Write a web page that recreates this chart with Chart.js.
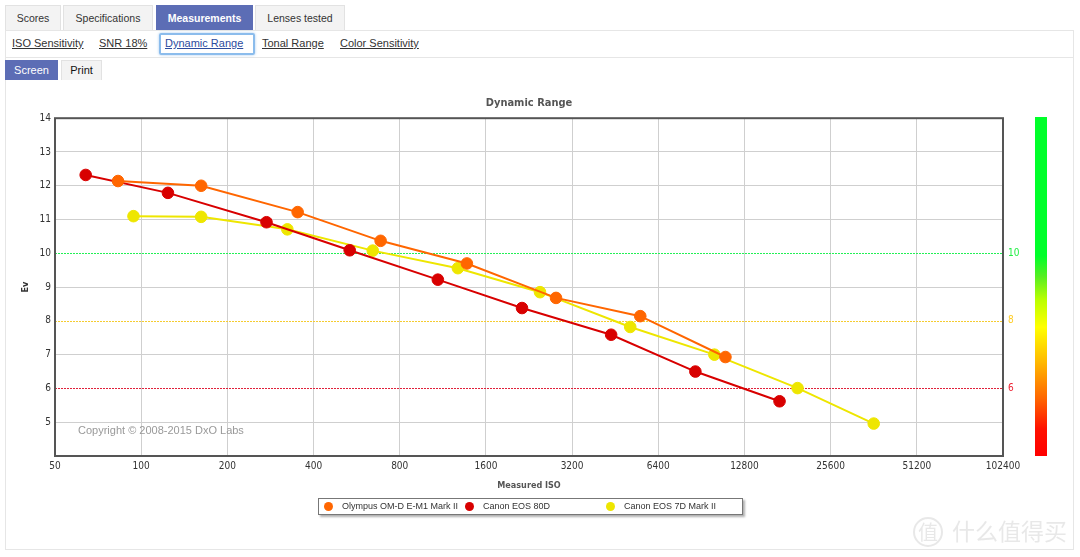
<!DOCTYPE html>
<html>
<head>
<meta charset="utf-8">
<script src="https://cdn.jsdelivr.net/npm/chart.js@4/dist/chart.umd.min.js"></script>
<style>
  body { margin: 0; background: #fff; font-family: "Liberation Sans", Arial, sans-serif; }
  .abs { position: absolute; box-sizing: border-box; }
  .tab { height: 25px; top: 5px; background: #f3f3f3; border: 1px solid #e2e2e2; border-bottom: 0;
         font-size: 10.5px; color: #333; text-align: center; line-height: 24px; }
  .tab.on { background: #5c6db5; border-color: #5c6db5; color: #fff; font-weight: bold; }
  .panel { left: 5px; top: 30px; width: 1069px; height: 520px; border: 1px solid #e6e6e6; }
  .sep { left: 5px; top: 57px; width: 1069px; height: 1px; background: #e6e6e6; }
  .sub { top: 36px; font-size: 11px; color: #333; text-decoration: underline; line-height: 14px; }
  .sub.on { color: #2c4b9e; }
  .focus { left: 159px; top: 33px; width: 96px; height: 22px; border: 2px solid #8bbcec;
           border-radius: 2px; box-shadow: 0 0 3px #a9cdf0; }
  .btn { top: 60px; height: 20px; font-size: 11px; line-height: 20px; text-align: center; }
  #chartBox { left: 6px; top: 86px; width: 1066px; height: 462px; }
  #bar { left: 1035px; top: 117px; width: 12px; height: 339px;
         background: linear-gradient(to bottom, #00ff2a 0%, #00ff2a 41%, #55ee22 47%, #bbff00 54%,
           #ffff00 62%, #ffbb00 72%, #ff6600 83%, #ff1100 92%, #ff0000 100%); }
  #legend { left: 318px; top: 498px; width: 425px; height: 17px; border: 1px solid #777;
            box-shadow: 2px 2px 2px #b0b0b0; background: #fff; font-size: 9px; color: #333; white-space: nowrap; }
  #legend span { display: inline-block; position: relative; width: 141px; padding-left: 23px;
                 box-sizing: border-box; line-height: 15px; }
  #legend i { position: absolute; left: 5px; top: 3px; width: 9px; height: 9px; border-radius: 50%; }
  .wm { color: rgba(190,190,190,0.35); font-family: "Noto Sans CJK SC", sans-serif; }
</style>
</head>
<body>
<div class="abs panel"></div>
<div class="abs tab" style="left:5px;width:56px">Scores</div>
<div class="abs tab" style="left:63px;width:90px">Specifications</div>
<div class="abs tab on" style="left:156px;width:97px">Measurements</div>
<div class="abs tab" style="left:255px;width:90px">Lenses tested</div>
<div class="abs sep"></div>
<div class="abs focus"></div>
<div class="abs sub" style="left:12px">ISO Sensitivity</div>
<div class="abs sub" style="left:99px">SNR 18%</div>
<div class="abs sub on" style="left:165px">Dynamic Range</div>
<div class="abs sub" style="left:262px">Tonal Range</div>
<div class="abs sub" style="left:340px">Color Sensitivity</div>
<div class="abs btn" style="left:5px;width:53px;background:#5c6db5;color:#fff">Screen</div>
<div class="abs btn" style="left:61px;width:41px;background:#f3f3f3;border:1px solid #e2e2e2;border-bottom:0;line-height:19px;color:#111">Print</div>

<div class="abs" id="chartBox"><canvas id="dr" width="1066" height="462"></canvas></div>
<div class="abs" id="bar"></div>
<div class="abs" id="legend"></div>

<div class="abs wm" style="left:913px;top:517px;width:30px;height:30px;border:2px solid rgba(190,190,190,0.35);border-radius:50%;font-size:20px;line-height:26px;text-align:center">值</div>
<div class="abs wm" style="left:952px;top:515px;font-size:23px;line-height:30px">什么值得买</div>

<script>
// axis ticks
const isoTicks = [50, 100, 200, 400, 800, 1600, 3200, 6400, 12800, 25600, 51200, 102400];
const refLevels = [10, 8, 6];
const refColors = ["#22ee44", "#ffcc22", "#ee2233"];
const refLineColors = ["#22f055", "#f5cc30", "#e0203a"];

// measured points (ISO, Ev)
const olympusIso = [83, 162, 352, 686, 1373, 2812, 5537, 10985];
const olympusEv = [12.14, 12.0, 11.22, 10.37, 9.7, 8.68, 8.14, 6.93];
const eos80dIso = [64, 124, 274, 535, 1087, 2139, 4381, 8626, 16974];
const eos80dEv = [12.32, 11.79, 10.92, 10.09, 9.22, 8.38, 7.59, 6.5, 5.62];
const eos7d2Iso = [94, 162, 324, 644, 1277, 2472, 5108, 10051, 19620, 36200];
const eos7d2Ev = [11.1, 11.08, 10.71, 10.08, 9.56, 8.85, 7.82, 7.0, 6.01, 4.96];

const names = ["Olympus OM-D E-M1 Mark II", "Canon EOS 80D", "Canon EOS 7D Mark II"];
const colors = ["#ff6600", "#d80000", "#eee600"];

const font = "'DejaVu Sans Condensed', 'DejaVu Sans', sans-serif";
Chart.defaults.font.family = font;
Chart.defaults.color = "#333";

function pts(xs, ys) {
  return xs.map((x, i) => ({ x: x, y: ys[i] }));
}

function series(i, xs, ys) {
  return {
    label: names[i],
    data: pts(xs, ys),
    borderColor: colors[i],
    backgroundColor: colors[i],
    pointBackgroundColor: colors[i],
    pointBorderColor: colors[i],
    borderWidth: 2,
    pointRadius: 5.8,
    pointBorderWidth: 1,
    tension: 0
  };
}

// frame round the plot, dotted reference lines, copyright
const extras = {
  id: "extras",
  beforeDatasetsDraw(chart) {
    const { ctx, chartArea: a } = chart;
    const y2 = chart.scales.y2;
    ctx.save();
    refLevels.forEach((v, i) => {
      const py = Math.round(y2.getPixelForValue(v));
      ctx.fillStyle = refLineColors[i];
      for (let x = Math.round(a.left); x < a.right; x += 3) {
        ctx.fillRect(x, py, 2, 1);
      }
    });
    ctx.strokeStyle = "#555";
    ctx.lineWidth = 2;
    ctx.strokeRect(a.left, a.top, a.right - a.left, a.bottom - a.top);
    ctx.fillStyle = "#999";
    ctx.font = "11px 'Liberation Sans', Arial, sans-serif";
    ctx.textBaseline = "middle";
    ctx.fillText("Copyright \u00a9 2008-2015 DxO Labs", a.left + 23, a.bottom - 25);
    ctx.restore();
  }
};

const chart = new Chart(document.getElementById("dr"), {
  type: "line",
  data: {
    datasets: [
      series(0, olympusIso, olympusEv),
      series(1, eos80dIso, eos80dEv),
      series(2, eos7d2Iso, eos7d2Ev)
    ]
  },
  options: {
    responsive: false,
    animation: false,
    layout: { padding: { left: 0, right: 20, top: 0, bottom: 0 } },
    plugins: {
      legend: { display: false },
      tooltip: { enabled: false },
      title: {
        display: true,
        text: "Dynamic Range",
        color: "#555",
        font: { size: 11, weight: "bold" },
        padding: { top: 10.5, bottom: 8.5 }
      }
    },
    scales: {
      x: {
        type: "logarithmic",
        min: 50,
        max: 102400,
        afterBuildTicks: (s) => { s.ticks = isoTicks.map(v => ({ value: v })); },
        afterFit: (s) => { s.height = 92; },
        ticks: { callback: (v) => String(v), font: { size: 10 }, padding: 4, maxRotation: 0, autoSkip: false },
        grid: {
          drawTicks: false,
          color: (c) => (c.tick && (c.tick.value === 50 || c.tick.value === 102400)) ? "transparent" : "#cfcfcf"
        },
        border: { display: false },
        title: { display: true, text: "Measured ISO", font: { size: 9, weight: "bold" }, color: "#555", padding: { top: 0, bottom: 56.5 } }
      },
      y: {
        min: 4,
        max: 14,
        ticks: { stepSize: 1, font: { size: 10 }, padding: 4, callback: (v) => v === 4 ? "" : v },
        afterFit: (s) => { s.width = 49; },
        grid: {
          drawTicks: false,
          color: (c) => (c.tick && (refLevels.includes(c.tick.value) || c.tick.value === 4 || c.tick.value === 14)) ? "transparent" : "#cfcfcf"
        },
        border: { display: false },
        title: { display: true, text: "Ev", font: { size: 9, weight: "bold" }, color: "#333", padding: { top: 14.5, bottom: 0 } }
      },
      y2: {
        position: "right",
        min: 4,
        max: 14,
        afterBuildTicks: (s) => { s.ticks = refLevels.map(v => ({ value: v })); },
        afterFit: (s) => { s.width = 49; },
        ticks: {
          font: { size: 10 },
          padding: 5,
          color: (c) => refColors[refLevels.indexOf(c.tick.value)]
        },
        grid: { drawTicks: false, drawOnChartArea: false },
        border: { display: false }
      }
    }
  },
  plugins: [extras]
});

// html legend from the datasets
const legend = document.getElementById("legend");
chart.data.datasets.forEach((ds) => {
  const item = document.createElement("span");
  item.innerHTML = '<i style="background:' + ds.pointBackgroundColor + '"></i>' + ds.label;
  legend.appendChild(item);
});
</script>
</body>
</html>
